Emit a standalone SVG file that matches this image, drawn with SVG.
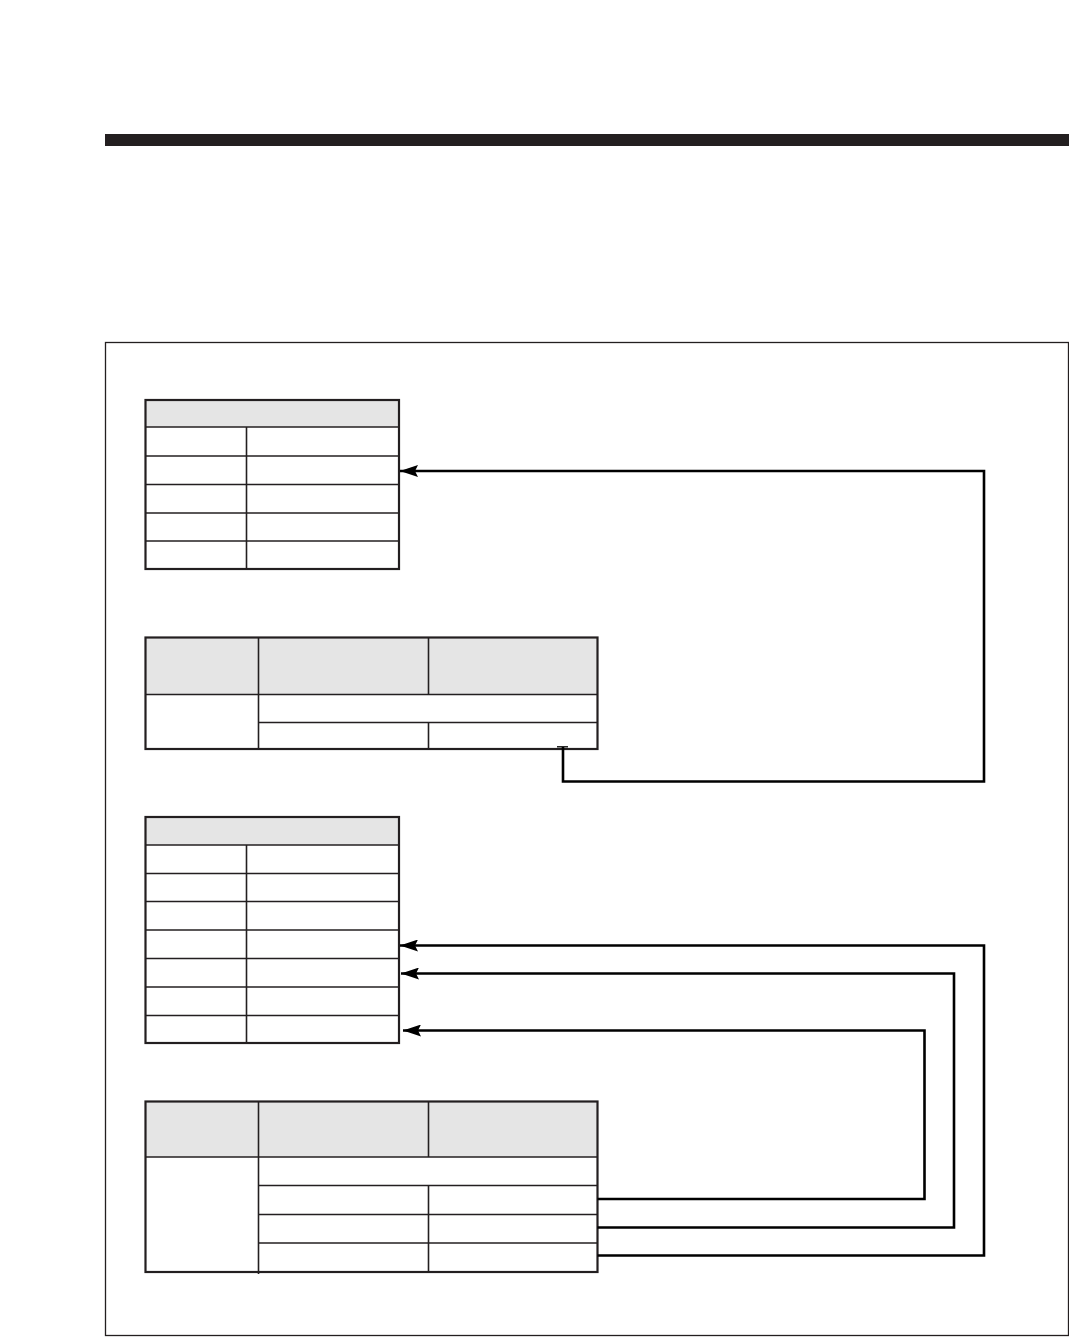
<svg xmlns="http://www.w3.org/2000/svg" width="1069" height="1337" viewBox="0 0 1069 1337">
<style>
.bg{fill:#ffffff}
.bar{fill:#231f20}
.frame{fill:none;stroke:#231f20;stroke-width:1.3}
.hdr{fill:#e5e5e5;stroke:none}
.cell{fill:#ffffff;stroke:none}
.in{stroke:#231f20;stroke-width:1.6;fill:none}
.out{fill:none;stroke:#231f20;stroke-width:2.2}
.conn{fill:none;stroke:#000000;stroke-width:2.6}
</style>
<defs>
<marker id="arr" markerUnits="userSpaceOnUse" markerWidth="20" markerHeight="12" refX="18" refY="6" orient="auto">
<path d="M0,0 L18,6 L0,12 L3,6 z" fill="#000000"/>
</marker>
</defs>
<rect class="bg" x="0" y="0" width="1069" height="1337"/>
<rect class="bar" x="105" y="134" width="964" height="12"/>
<rect class="frame" x="105.5" y="342.5" width="963" height="993"/>

<g id="table1">
<rect class="hdr" x="145.5" y="400" width="253.5" height="27"/>
<line class="in" x1="145.5" y1="427" x2="399" y2="427"/>
<line class="in" x1="145.5" y1="456" x2="399" y2="456"/>
<line class="in" x1="145.5" y1="484.5" x2="399" y2="484.5"/>
<line class="in" x1="145.5" y1="513" x2="399" y2="513"/>
<line class="in" x1="145.5" y1="541" x2="399" y2="541"/>
<line class="in" x1="246.5" y1="427" x2="246.5" y2="569"/>
<rect class="out" x="145.5" y="400" width="253.5" height="169"/>
</g>

<g id="table2">
<rect class="hdr" x="145.5" y="637.5" width="452" height="57"/>
<line class="in" x1="145.5" y1="694.5" x2="597.5" y2="694.5"/>
<line class="in" x1="258.5" y1="722.5" x2="597.5" y2="722.5"/>
<line class="in" x1="258.5" y1="637.5" x2="258.5" y2="749"/>
<line class="in" x1="428.5" y1="637.5" x2="428.5" y2="694.5"/>
<line class="in" x1="428.5" y1="722.5" x2="428.5" y2="749"/>
<rect class="out" x="145.5" y="637.5" width="452" height="111.5"/>
</g>

<g id="table3">
<rect class="hdr" x="145.5" y="817" width="253.5" height="28"/>
<line class="in" x1="145.5" y1="845" x2="399" y2="845"/>
<line class="in" x1="145.5" y1="873.5" x2="399" y2="873.5"/>
<line class="in" x1="145.5" y1="901.5" x2="399" y2="901.5"/>
<line class="in" x1="145.5" y1="930" x2="399" y2="930"/>
<line class="in" x1="145.5" y1="958.5" x2="399" y2="958.5"/>
<line class="in" x1="145.5" y1="987" x2="399" y2="987"/>
<line class="in" x1="145.5" y1="1015.5" x2="399" y2="1015.5"/>
<line class="in" x1="246.5" y1="845" x2="246.5" y2="1043"/>
<rect class="out" x="145.5" y="817" width="253.5" height="226"/>
</g>

<g id="table4">
<rect class="hdr" x="145.5" y="1101.5" width="452" height="55.5"/>
<line class="in" x1="145.5" y1="1157" x2="597.5" y2="1157"/>
<line class="in" x1="258.5" y1="1185.5" x2="597.5" y2="1185.5"/>
<line class="in" x1="258.5" y1="1214.5" x2="597.5" y2="1214.5"/>
<line class="in" x1="258.5" y1="1243" x2="597.5" y2="1243"/>
<line class="in" x1="258.5" y1="1101.5" x2="258.5" y2="1274"/>
<line class="in" x1="428.5" y1="1101.5" x2="428.5" y2="1157"/>
<line class="in" x1="428.5" y1="1185.5" x2="428.5" y2="1272"/>
<rect class="out" x="145.5" y="1101.5" width="452" height="170.5"/>
</g>

<g id="connectors">
<line x1="557" y1="746.8" x2="568" y2="746.8" stroke="#000000" stroke-width="1.3"/>
<path class="conn" d="M563,747 V781.5 H984 V471 H400" marker-end="url(#arr)"/>
<path class="conn" d="M597.5,1199 H924.5 V1030.5 H403" marker-end="url(#arr)"/>
<path class="conn" d="M597.5,1227.5 H954 V973.5 H401" marker-end="url(#arr)"/>
<path class="conn" d="M597.5,1255.5 H984 V945.5 H400" marker-end="url(#arr)"/>
</g>
</svg>
